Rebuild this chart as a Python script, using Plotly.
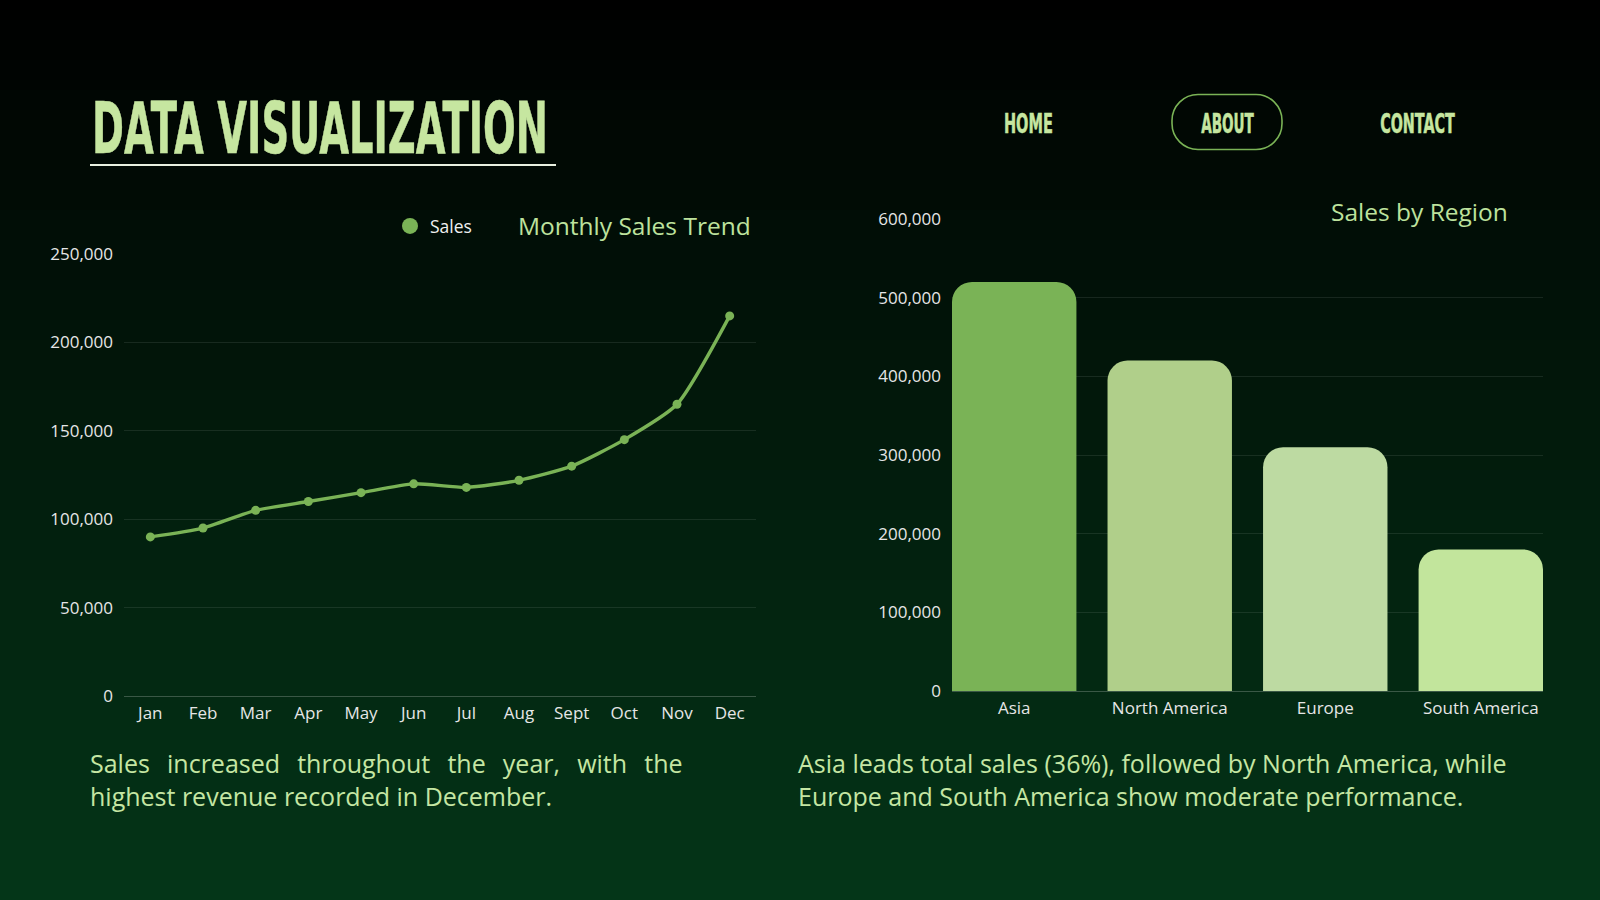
import plotly.graph_objects as go

# ---------------- data ----------------
months = ["Jan", "Feb", "Mar", "Apr", "May", "Jun", "Jul", "Aug", "Sept", "Oct", "Nov", "Dec"]
monthly_sales = [90000, 95000, 105000, 110000, 115000, 120000, 118000, 122000, 130000, 145000, 165000, 215000]

regions = ["Asia", "North America", "Europe", "South America"]
region_sales = [520000, 420000, 310000, 180000]
region_colors = ["#7AB356", "#B0CF8A", "#BDDAA2", "#C2E59C"]

left_ticks = [0, 50000, 100000, 150000, 200000, 250000]
right_ticks = [0, 100000, 200000, 300000, 400000, 500000, 600000]

# ---------------- style ----------------
W, H = 1600, 900
BODY = "Open Sans, Lato, sans-serif"
HEAD = "DejaVu Sans, sans-serif"
LIGHT = "#C5E6A3"
TICK = "#E6E6E6"
GRID = "rgba(255,255,255,0.09)"

def px(x):
    return x / W

def py(y):
    return 1 - y / H

fig = go.Figure()

# line chart
fig.add_trace(go.Scatter(
    x=months, y=monthly_sales, mode="lines+markers",
    line=dict(color="#7AB356", width=3.4, shape="spline", smoothing=0.6),
    marker=dict(color="#7AB356", size=9),
    name="Sales", showlegend=False, xaxis="x", yaxis="y",
))
# legend entry (marker only)
fig.add_trace(go.Scatter(
    x=[None], y=[None], mode="markers",
    marker=dict(color="#7AB356", size=16),
    name="Sales", showlegend=True, xaxis="x", yaxis="y",
))

# bar chart
fig.add_trace(go.Bar(
    x=regions, y=region_sales, marker=dict(color=region_colors, line=dict(width=0)),
    showlegend=False, xaxis="x2", yaxis="y2",
))

# ---------------- background gradient ----------------
shapes = []
n = 90
top = (0, 0, 0)
bot = (4, 54, 24)
for i in range(n):
    t = (i + 0.5) / n
    c = tuple(int(round(top[k] + (bot[k] - top[k]) * t)) for k in range(3))
    shapes.append(dict(
        type="rect", xref="paper", yref="paper", layer="below",
        x0=0, x1=1, y0=max(0, 1 - (i + 1) / n - 0.002), y1=1 - i / n,
        fillcolor="rgb(%d,%d,%d)" % c, line=dict(width=0),
    ))

# title underline
shapes.append(dict(type="line", xref="paper", yref="paper",
                   x0=px(90), x1=px(556), y0=py(165), y1=py(165),
                   line=dict(color="#E8F0E0", width=2)))

# ABOUT pill
w, h, r = 55, 27.5, 26
k = 0.5523 * r
path = (f"M {-w + r},{-h} L {w - r},{-h} C {w - r + k},{-h} {w},{-h + r - k} {w},{-h + r} "
        f"L {w},{h - r} C {w},{h - r + k} {w - r + k},{h} {w - r},{h} "
        f"L {-w + r},{h} C {-w + r - k},{h} {-w},{h - r + k} {-w},{h - r} "
        f"L {-w},{-h + r} C {-w},{-h + r - k} {-w + r - k},{-h} {-w + r},{-h} Z")
shapes.append(dict(type="path", xref="paper", yref="paper",
                   xsizemode="pixel", ysizemode="pixel",
                   xanchor=px(1227), yanchor=py(122), path=path,
                   line=dict(color="#7AB356", width=1.6), fillcolor="rgba(0,0,0,0)"))

# ---------------- annotations ----------------
ann = []
ann.append(dict(text="<b>DATA VISUALIZATION</b>", x=px(90), y=py(128), xref="paper", yref="paper",
                xanchor="left", yanchor="middle", showarrow=False,
                font=dict(family=HEAD, size=71, color="#C6E6A0")))
for label, cx in [("HOME", 1028), ("ABOUT", 1227), ("CONTACT", 1417)]:
    ann.append(dict(text="<b>%s</b>" % label, x=px(cx), y=py(123), xref="paper", yref="paper",
                    xanchor="center", yanchor="middle", showarrow=False,
                    font=dict(family=HEAD, size=27, color="#C6E6A0")))
ann.append(dict(text="Monthly Sales Trend", x=px(753), y=py(225), xref="paper", yref="paper",
                xanchor="right", yanchor="middle", showarrow=False,
                font=dict(family=BODY, size=24.5, color="#BDE29D")))
ann.append(dict(text="Sales by Region", x=px(1510), y=py(211), xref="paper", yref="paper",
                xanchor="right", yanchor="middle", showarrow=False,
                font=dict(family=BODY, size=24.5, color="#BDE29D")))
gap = " \u00a0\u2006"
line1 = gap.join("Sales increased throughout the year, with the".split(" "))
ann.append(dict(text=line1 + "<br>highest revenue recorded in December.",
                x=px(88), y=py(779), xref="paper", yref="paper",
                xanchor="left", yanchor="middle", align="left", showarrow=False,
                font=dict(family=BODY, size=25, color=LIGHT)))
ann.append(dict(text="Asia leads total sales (36%), followed by North America, while"
                     "<br>Europe and South America show moderate performance.",
                x=px(796), y=py(779), xref="paper", yref="paper",
                xanchor="left", yanchor="middle", align="left", showarrow=False,
                font=dict(family=BODY, size=25, color=LIGHT)))

TF = dict(family=BODY, size=17, color=TICK)

# ---------------- layout ----------------
fig.update_layout(
    width=W, height=H,
    margin=dict(l=0, r=0, t=0, b=0, pad=0, autoexpand=False),
    paper_bgcolor="#000000", plot_bgcolor="rgba(0,0,0,0)",
    shapes=shapes, annotations=ann,
    hovermode=False, bargap=0.2,
    barcornerradius=20,
    font=dict(family=BODY, color=TICK),
    legend=dict(x=px(390), y=py(226), xanchor="left", yanchor="middle",
                bgcolor="rgba(0,0,0,0)", font=dict(family=BODY, size=17.5, color="#F0F0F0"),
                itemwidth=30),
    xaxis=dict(domain=[px(124), px(756)], range=[-0.5, 11.5], anchor="y",
               showgrid=False, zeroline=False, showline=True,
               linecolor="rgba(255,255,255,0.22)", linewidth=1,
               tickfont=TF, ticklabelstandoff=2, fixedrange=True),
    yaxis=dict(domain=[py(696), py(254)], range=[0, 250000], anchor="x",
               tickvals=left_ticks, tickformat=",", showgrid=True, gridcolor=GRID,
               zeroline=False, showline=False,
               tickfont=TF, ticklabelstandoff=10, fixedrange=True),
    xaxis2=dict(domain=[px(952), px(1543)], range=[-0.4, 3.4], anchor="y2",
                showgrid=False, zeroline=False, showline=True,
                linecolor="rgba(255,255,255,0.22)", linewidth=1,
                tickfont=TF, ticklabelstandoff=2, fixedrange=True),
    yaxis2=dict(domain=[py(691), py(219)], range=[0, 600000], anchor="x2",
                tickvals=right_ticks, tickformat=",", showgrid=True, gridcolor=GRID,
                zeroline=False, showline=False,
                tickfont=TF, ticklabelstandoff=10, fixedrange=True),
)

# page margin removal and horizontal condensing of the display headings
post = """
document.body.style.margin = '0';
document.body.style.overflow = 'hidden';
(function(){
  var targets = {
    'DATA VISUALIZATION': [456, 'left'],
    'HOME': [49, 'center'],
    'ABOUT': [53, 'center'],
    'CONTACT': [75, 'center']
  };
  function squeeze(){
    document.querySelectorAll('text.annotation-text').forEach(function(t){
      var spec = targets[t.textContent];
      if (!spec) return;
      t.style.transform = 'none';
      var w = t.getBBox().width;
      if (!w) return;
      t.style.transformBox = 'fill-box';
      t.style.transformOrigin = spec[1] + ' center';
      t.style.transform = 'scaleX(' + (spec[0] / w) + ')';
      t.style.stroke = '#C6E6A0';
      t.style.strokeWidth = '0.6px';
    });
  }
  squeeze();
  var gd = document.getElementById('{plot_id}');
  if (gd && gd.on) { gd.on('plotly_afterplot', squeeze); }
})();
"""

fig.write_html("out.html", config={"displayModeBar": False}, post_script=post)
